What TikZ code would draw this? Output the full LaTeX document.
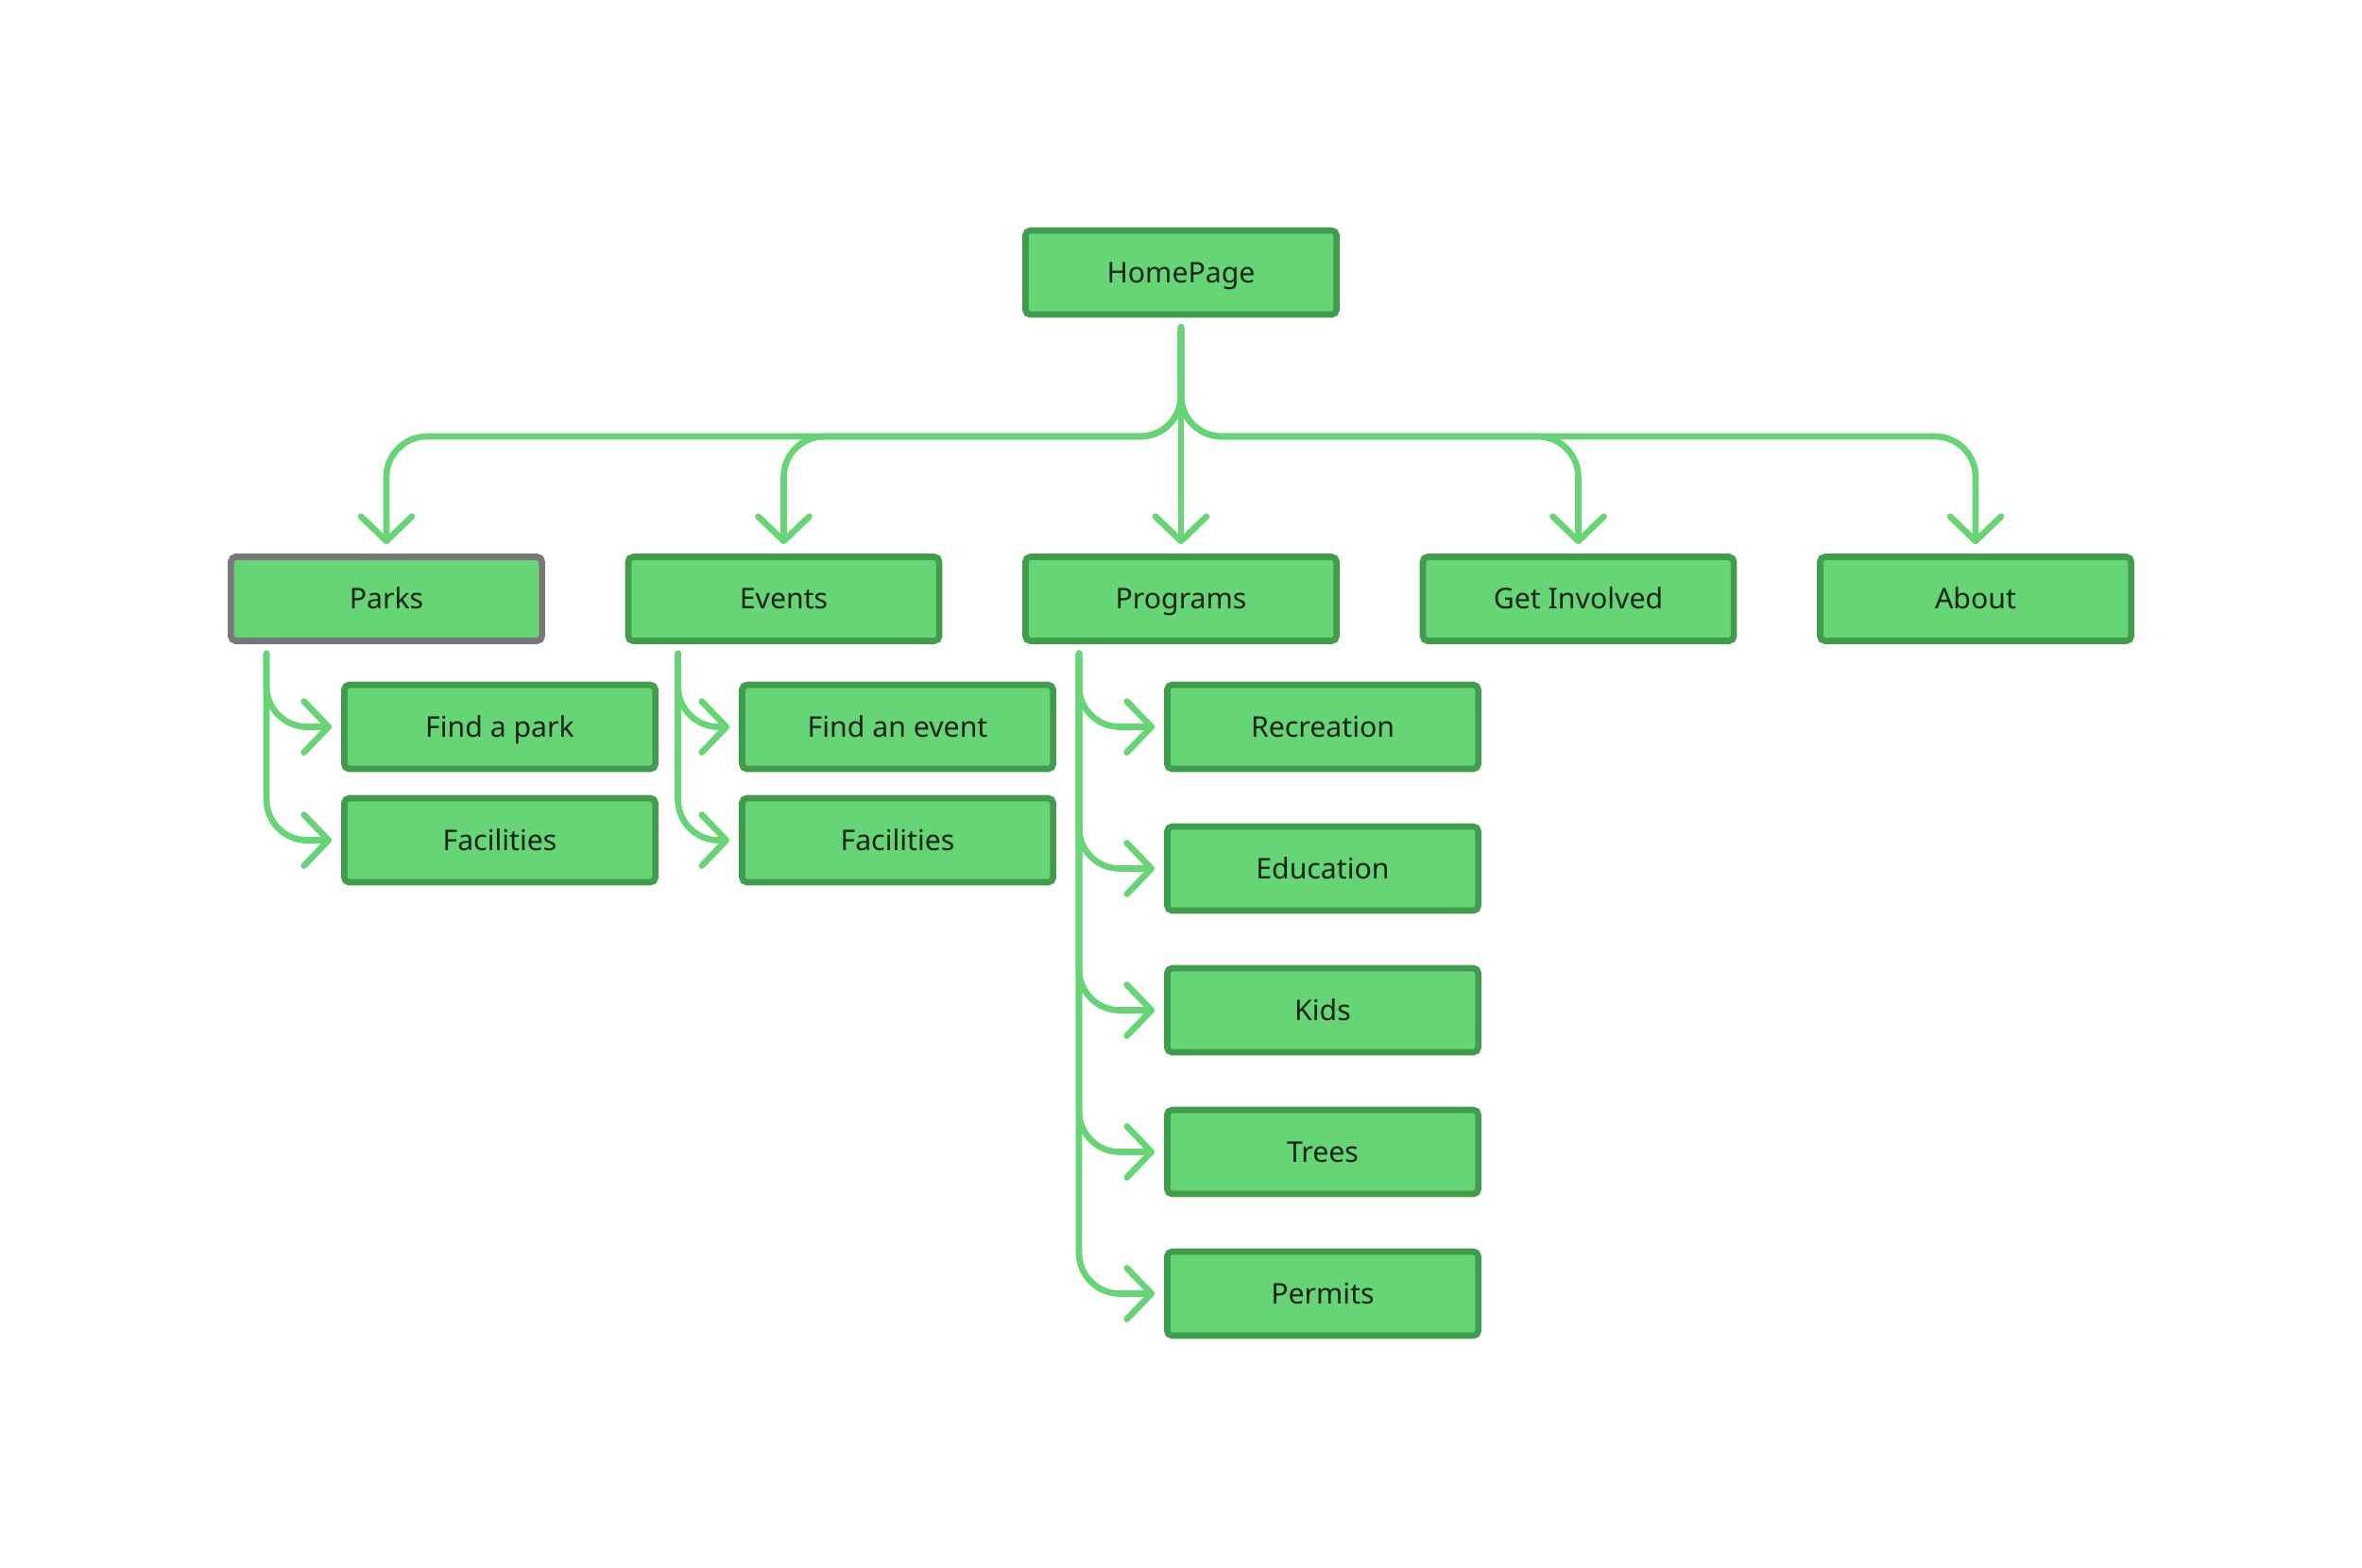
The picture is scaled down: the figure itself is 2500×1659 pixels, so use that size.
\documentclass[tikz,border=0pt]{standalone}
\usepackage{fontspec}
\setmainfont{Noto Sans}
\usetikzlibrary{arrows.meta}
\usetikzlibrary{calc}
\definecolor{boxfill}{HTML}{66D575}
\definecolor{boxline}{HTML}{3F9D4B}
\definecolor{boxgray}{HTML}{787878}
\definecolor{linkgreen}{HTML}{66D575}
\definecolor{textdark}{HTML}{122416}

\begin{document}
\begin{tikzpicture}[x=0.01cm,y=-0.01cm]
    \tikzset{page/.style={draw=boxline, fill=boxfill, line width=1.9pt, rounded corners=1.5pt, minimum width=3.29cm, minimum height=0.89cm, inner sep=0pt, text height=6.1pt, text depth=0pt, text=textdark, font=\fontsize{8.6pt}{10pt}\selectfont}}
    \tikzset{link/.style={draw=linkgreen, line width=1.9pt, line cap=round, rounded corners=0.43cm, -{Straight Barb[length=0.26cm,width=0.54cm,round]}, shorten <=0.1cm, shorten >=0.1cm}}

    \useasboundingbox (0,0) rectangle (2500,1659);

    \coordinate (bus) at (1250,462);

    %top
    \node[page] (home) at (1250,288.5) {HomePage};

    %first level
    \node[page, draw=boxgray] (parks) at (409,634) {Parks};
    \node[page] (events) at (829.5,634) {Events};
    \node[page] (programs) at (1250,634) {Programs};
    \node[page] (involved) at (1670.5,634) {Get Involved};
    \node[page] (about) at (2091,634) {About};

    \draw[link] (home.south) |- (bus -| parks.north) -- (parks.north);
    \draw[link] (home.south) |- (bus -| events.north) -- (events.north);
    \draw[link] (home.south) -- (programs.north);
    \draw[link] (home.south) |- (bus -| involved.north) -- (involved.north);
    \draw[link] (home.south) |- (bus -| about.north) -- (about.north);

    %Parks
    \coordinate (parks_stem) at ($(parks.south west)+(41,0)$);
    \node[page] (findpark) at (529,769.5) {Find a park};
    \node[page] (parkfac) at (529,889.5) {Facilities};
    \draw[link] (parks_stem) |- (findpark.west);
    \draw[link] (parks_stem) |- (parkfac.west);

    %Events
    \coordinate (events_stem) at ($(events.south west)+(56,0)$);
    \node[page] (findevent) at (950,769.5) {Find an event};
    \node[page] (eventfac) at (950,889.5) {Facilities};
    \draw[link] (events_stem) |- (findevent.west);
    \draw[link] (events_stem) |- (eventfac.west);

    %Programs
    \coordinate (programs_stem) at ($(programs.south west)+(60,0)$);
    \node[page] (recreation) at (1400,769.5) {Recreation};
    \node[page] (education) at (1400,919.5) {Education};
    \node[page] (kids) at (1400,1069.5) {Kids};
    \node[page] (trees) at (1400,1219.5) {Trees};
    \node[page] (permits) at (1400,1369.5) {Permits};
    \draw[link] (programs_stem) |- (recreation.west);
    \draw[link] (programs_stem) |- (education.west);
    \draw[link] (programs_stem) |- (kids.west);
    \draw[link] (programs_stem) |- (trees.west);
    \draw[link] (programs_stem) |- (permits.west);
\end{tikzpicture}
\end{document}
